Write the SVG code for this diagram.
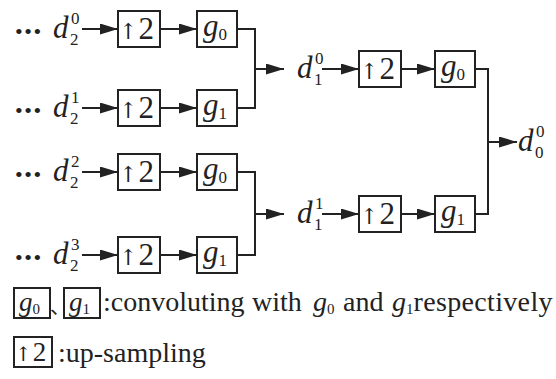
<svg xmlns="http://www.w3.org/2000/svg" width="556" height="379" viewBox="0 0 556 379">
<defs>
<style>
.box{fill:#fff;stroke:#222;stroke-width:2}
.ln{fill:none;stroke:#222;stroke-width:2}
.ar{fill:none;stroke:#222;stroke-width:2;marker-end:url(#ah)}
text{font-family:"Liberation Serif","Times New Roman",serif;fill:#222}
.v{font-size:31px;font-style:italic}
.s{font-size:17px;font-style:normal}
.n{font-size:31px}
.up{font-family:"DejaVu Serif","DejaVu Sans",serif;font-size:22px}
.dots{font-size:22px;letter-spacing:1.5px}
.lg{font-size:28px}
</style>
<marker id="ah" markerUnits="userSpaceOnUse" markerWidth="18" markerHeight="11" refX="18" refY="5.5" orient="auto">
<path d="M0,0 L18,5.5 L0,11 z" fill="#222"/>
</marker>
</defs>
<rect width="556" height="379" fill="#fff"/>

<g id="connectors">
<line class="ar" x1="82" y1="29" x2="118" y2="29"/>
<line class="ar" x1="160" y1="29" x2="197" y2="29"/>
<line class="ar" x1="82" y1="108" x2="118" y2="108"/>
<line class="ar" x1="160" y1="108" x2="197" y2="108"/>
<line class="ar" x1="82" y1="172" x2="118" y2="172"/>
<line class="ar" x1="160" y1="172" x2="197" y2="172"/>
<line class="ar" x1="82" y1="255" x2="118" y2="255"/>
<line class="ar" x1="160" y1="255" x2="197" y2="255"/>
<polyline class="ln" points="237,29 255,29 255,108 237,108"/>
<polyline class="ln" points="237,172 255,172 255,255 237,255"/>
<line class="ar" x1="255" y1="69" x2="284" y2="69"/>
<line class="ar" x1="255" y1="214" x2="284" y2="214"/>
<line class="ar" x1="322" y1="69" x2="359" y2="69"/>
<line class="ar" x1="322" y1="214" x2="359" y2="214"/>
<line class="ar" x1="401" y1="69" x2="435" y2="69"/>
<line class="ar" x1="401" y1="214" x2="435" y2="214"/>
<polyline class="ln" points="475,69 488,69 488,214 475,214"/>
<line class="ar" x1="488" y1="142" x2="517" y2="142"/>
</g>

<g id="in0"><text class="dots" x="15" y="39">•••</text><text class="v" x="53" y="38">d</text><text class="s" x="71" y="24">0</text><text class="s" x="70" y="45">2</text></g>
<g id="in1"><text class="dots" x="15" y="118">•••</text><text class="v" x="53" y="117">d</text><text class="s" x="71" y="103">1</text><text class="s" x="70" y="124">2</text></g>
<g id="in2"><text class="dots" x="15" y="182">•••</text><text class="v" x="53" y="181">d</text><text class="s" x="71" y="167">2</text><text class="s" x="70" y="188">2</text></g>
<g id="in3"><text class="dots" x="15" y="265">•••</text><text class="v" x="53" y="264">d</text><text class="s" x="71" y="250">3</text><text class="s" x="70" y="271">2</text></g>

<g id="up0"><rect class="box" x="118" y="11" width="42" height="36"/><text x="119" y="39"><tspan class="up">↑</tspan><tspan class="n" dx="1">2</tspan></text></g>
<g id="up1"><rect class="box" x="118" y="90" width="42" height="36"/><text x="119" y="118"><tspan class="up">↑</tspan><tspan class="n" dx="1">2</tspan></text></g>
<g id="up2"><rect class="box" x="118" y="154" width="42" height="36"/><text x="119" y="182"><tspan class="up">↑</tspan><tspan class="n" dx="1">2</tspan></text></g>
<g id="up3"><rect class="box" x="118" y="237" width="42" height="36"/><text x="119" y="265"><tspan class="up">↑</tspan><tspan class="n" dx="1">2</tspan></text></g>

<g id="g0a"><rect class="box" x="197" y="11" width="40" height="36"/><text x="203" y="36"><tspan class="v">g</tspan><tspan class="s" dy="4">0</tspan></text></g>
<g id="g1a"><rect class="box" x="197" y="90" width="40" height="36"/><text x="203" y="115"><tspan class="v">g</tspan><tspan class="s" dy="4">1</tspan></text></g>
<g id="g0b"><rect class="box" x="197" y="154" width="40" height="36"/><text x="203" y="179"><tspan class="v">g</tspan><tspan class="s" dy="4">0</tspan></text></g>
<g id="g1b"><rect class="box" x="197" y="237" width="40" height="36"/><text x="203" y="262"><tspan class="v">g</tspan><tspan class="s" dy="4">1</tspan></text></g>

<g id="mid0"><text class="v" x="297" y="78">d</text><text class="s" x="315" y="64">0</text><text class="s" x="314" y="85">1</text></g>
<g id="mid1"><text class="v" x="297" y="223">d</text><text class="s" x="315" y="209">1</text><text class="s" x="314" y="230">1</text></g>

<g id="up4"><rect class="box" x="359" y="51" width="42" height="36"/><text x="360" y="79"><tspan class="up">↑</tspan><tspan class="n" dx="1">2</tspan></text></g>
<g id="up5"><rect class="box" x="359" y="196" width="42" height="36"/><text x="360" y="224"><tspan class="up">↑</tspan><tspan class="n" dx="1">2</tspan></text></g>
<g id="g0c"><rect class="box" x="435" y="51" width="40" height="36"/><text x="441" y="76"><tspan class="v">g</tspan><tspan class="s" dy="4">0</tspan></text></g>
<g id="g1c"><rect class="box" x="435" y="196" width="40" height="36"/><text x="441" y="221"><tspan class="v">g</tspan><tspan class="s" dy="4">1</tspan></text></g>

<g id="out"><text class="v" x="518" y="151">d</text><text class="s" x="536" y="137">0</text><text class="s" x="535" y="158">0</text></g>

<g id="legend">
<rect class="box" x="14" y="288" width="36" height="30"/><text x="19" y="311"><tspan class="v" style="font-size:27px">g</tspan><tspan class="s" style="font-size:15px" dy="3">0</tspan></text>
<text x="50" y="314" style="font-family:'Noto Sans CJK SC',sans-serif;font-size:20px">、</text>
<rect class="box" x="64" y="288" width="36" height="30"/><text x="69" y="311"><tspan class="v" style="font-size:27px">g</tspan><tspan class="s" style="font-size:15px" dy="3">1</tspan></text>
<text class="lg" x="103" y="311">:convoluting<tspan x="252">with</tspan><tspan x="313" font-style="italic">g</tspan><tspan font-size="15" dy="3">0</tspan><tspan x="343" dy="-3">and</tspan><tspan x="392" font-style="italic">g</tspan><tspan font-size="15" dy="3">1</tspan><tspan dy="-3" textLength="139">respectively</tspan></text>
<rect class="box" x="14" y="337" width="38" height="30"/><text x="15" y="361"><tspan class="up" style="font-size:20px">↑</tspan><tspan dx="1" style="font-size:27px">2</tspan></text>
<text class="lg" x="58" y="362">:up-sampling</text>
</g>
</svg>
